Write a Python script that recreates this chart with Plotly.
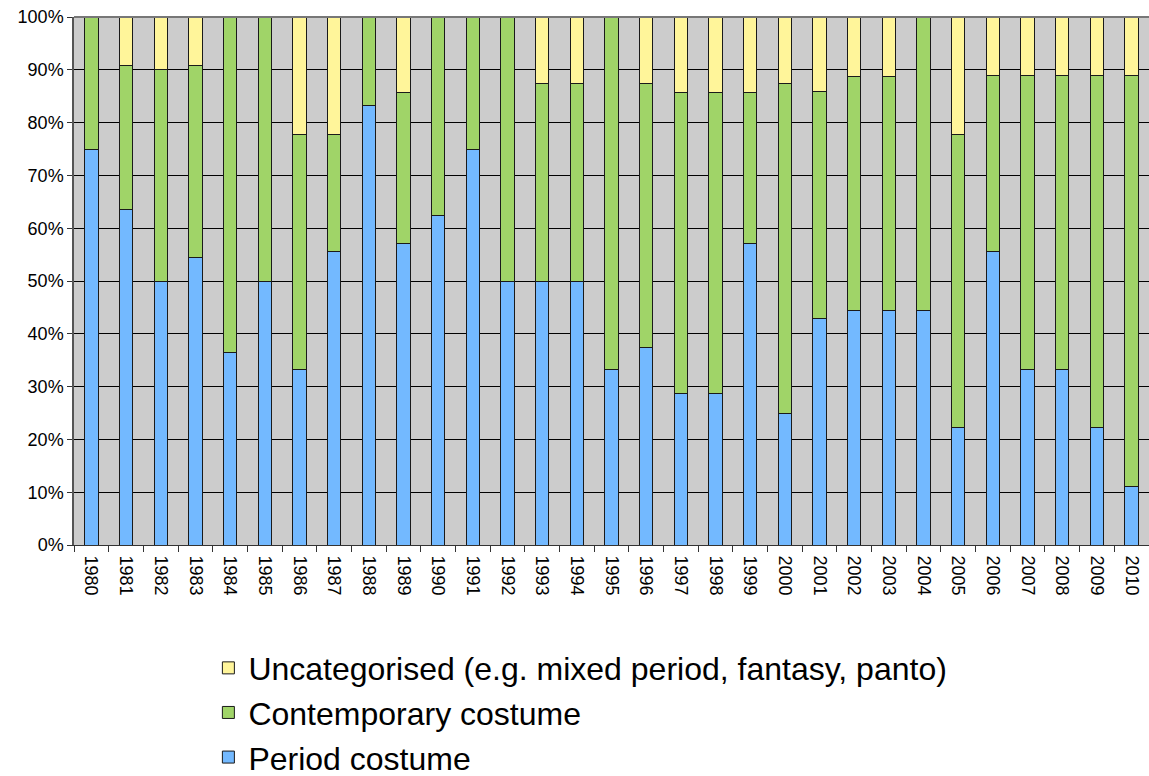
import plotly.graph_objects as go

years = [str(y) for y in range(1980, 2011)]
period = [75.0, 63.6, 50.0, 54.5, 36.4, 50.0, 33.3, 55.6, 83.3, 57.1,
          62.5, 75.0, 50.0, 50.0, 50.0, 33.3, 37.5, 28.6, 28.6, 57.1,
          25.0, 42.9, 44.4, 44.4, 44.4, 22.2, 55.6, 33.3, 33.3, 22.2, 11.1]
contemporary = [25.0, 27.3, 40.0, 36.4, 63.6, 50.0, 44.4, 22.2, 16.7, 28.6,
                37.5, 25.0, 50.0, 37.5, 37.5, 66.7, 50.0, 57.1, 57.1, 28.6,
                62.5, 42.9, 44.4, 44.4, 55.6, 55.6, 33.3, 55.6, 55.6, 66.7, 77.8]
uncategorised = [0.0, 9.1, 10.0, 9.1, 0.0, 0.0, 22.2, 22.2, 0.0, 14.3,
                 0.0, 0.0, 0.0, 12.5, 12.5, 0.0, 12.5, 14.3, 14.3, 14.3,
                 12.5, 14.3, 11.1, 11.1, 0.0, 22.2, 11.1, 11.1, 11.1, 11.1, 11.1]

series = [
    ("Period costume", period, "#73b9ff", 3),
    ("Contemporary costume", contemporary, "#a0d468", 2),
    ("Uncategorised (e.g. mixed period, fantasy, panto)", uncategorised, "#fff59a", 1),
]

fig = go.Figure()
for name, vals, color, rank in series:
    fig.add_trace(go.Bar(
        x=years, y=[v / 100 for v in vals], name=name, legendrank=rank,
        marker=dict(color=color, line=dict(color="#1a1a1a", width=1)),
    ))

fig.update_layout(
    barmode="stack",
    bargap=0.615,
    width=1149, height=776,
    margin=dict(l=74, r=0, t=17, b=231, autoexpand=False),
    plot_bgcolor="#cccccc",
    paper_bgcolor="white",
    font=dict(family="Liberation Sans, Arial, sans-serif", color="black"),
    legend=dict(
        orientation="v", traceorder="normal",
        x=0.125, xanchor="left", y=-0.181, yanchor="top",
        font=dict(size=32, color="black"),
        bgcolor="rgba(0,0,0,0)",
    ),
    showlegend=True,
)
fig.update_xaxes(
    type="category", tickangle=90, tickfont=dict(size=18),
    ticks="outside", tickson="boundaries", ticklen=6, tickcolor="#333",
    ticklabelstandoff=6,
    showline=True, linecolor="#333", linewidth=1, showgrid=False,
    automargin=False,
)
fig.update_yaxes(
    range=[0, 1], dtick=0.1, tickformat=".0%", tickfont=dict(size=18),
    ticks="outside", ticklen=5, tickcolor="#333",
    showline=True, linecolor="#555", linewidth=1.5,
    showgrid=True, gridcolor="black", gridwidth=1, zeroline=False,
    automargin=False,
)
fig.add_shape(type="line", xref="paper", yref="paper", x0=0, x1=1, y0=1, y1=1,
              line=dict(color="#777", width=2))

fig.write_html("out.html", config={"displayModeBar": False},
               post_script="document.body.style.margin='0';document.body.style.overflow='hidden';")
